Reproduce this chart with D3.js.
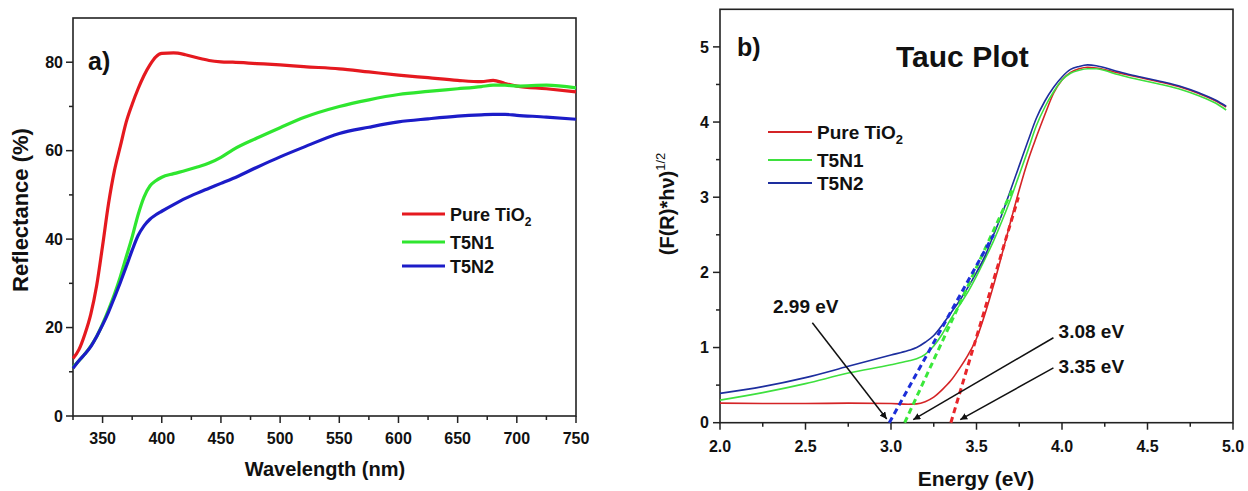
<!DOCTYPE html>
<html>
<head>
<meta charset="utf-8">
<script src="https://cdnjs.cloudflare.com/ajax/libs/d3/7.8.5/d3.min.js"></script>
<style>
body { margin: 0; background: #fff; }
text { font-family: "Liberation Sans", Arial, sans-serif; font-weight: bold; fill: #111; }
</style>
</head>
<body>
<script>
// ---- panel a) reflectance data
var wavelength = [325, 330, 335, 340, 345, 350, 355, 360, 365, 370, 375, 380, 385, 390, 395, 400,
    410, 420, 430, 440, 450, 460, 480, 500, 520, 550, 575, 600, 625, 650, 670, 680, 690, 700, 725, 750];
var reflPure = [13, 15, 18.5, 23, 29.5, 38.5, 48, 55.5, 61, 66.5, 70.5, 74, 77, 79.4, 81.2, 82.0,
    82.1, 81.7, 81.0, 80.4, 80.1, 80.0, 79.7, 79.4, 79.0, 78.5, 77.8, 77.1, 76.5, 75.9, 75.6, 75.9, 75.2, 74.6, 74.0, 73.3];
var reflT5N1 = [11, 12.5, 14, 15.8, 18, 20.8, 24, 27.5, 31.5, 36, 40.5, 45.5, 49.5, 52, 53.2, 54,
    54.8, 55.5, 56.3, 57.2, 58.5, 60.2, 62.8, 65.2, 67.5, 70, 71.5, 72.7, 73.4, 74, 74.5, 74.8, 74.8, 74.6, 74.8, 74.2];
var reflT5N2 = [10.8, 12.5, 14, 15.7, 18, 20.6, 23.5, 26.8, 30.2, 33.8, 37.5, 40.8, 43, 44.5, 45.5, 46.3,
    47.8, 49.2, 50.4, 51.5, 52.6, 53.7, 56.2, 58.6, 60.8, 63.9, 65.3, 66.5, 67.2, 67.8, 68.1, 68.2, 68.2, 68.0, 67.6, 67.1];
var wlTicks = [350, 400, 450, 500, 550, 600, 650, 700, 750];
var reflTicks = [0, 20, 40, 60, 80];

// ---- panel b) tauc data
var energy = [2.0, 2.25, 2.5, 2.75, 3.0, 3.1, 3.15, 3.2, 3.25, 3.3, 3.35, 3.4, 3.45, 3.5, 3.55, 3.6, 3.65, 3.7,
    3.75, 3.8, 3.85, 3.9, 3.95, 4.0, 4.05, 4.1, 4.15, 4.2, 4.3, 4.4, 4.5, 4.6, 4.7, 4.8, 4.9, 4.96];
var taucPure = [0.26, 0.255, 0.255, 0.26, 0.255, 0.245, 0.25, 0.28, 0.34, 0.44, 0.56, 0.72, 0.9, 1.12, 1.45, 1.83, 2.25, 2.68,
    3.1, 3.48, 3.8, 4.1, 4.38, 4.56, 4.66, 4.71, 4.73, 4.72, 4.67, 4.62, 4.57, 4.52, 4.46, 4.38, 4.28, 4.2];
var taucT5N1 = [0.3, 0.4, 0.52, 0.66, 0.77, 0.82, 0.85, 0.91, 1.02, 1.18, 1.38, 1.56, 1.74, 1.95, 2.18, 2.42, 2.69, 2.98,
    3.3, 3.62, 3.95, 4.2, 4.4, 4.56, 4.65, 4.69, 4.71, 4.71, 4.65, 4.59, 4.54, 4.49, 4.43, 4.35, 4.25, 4.16];
var taucT5N2 = [0.39, 0.48, 0.6, 0.75, 0.9, 0.96, 1.0, 1.07, 1.16, 1.3, 1.46, 1.62, 1.8, 2.0, 2.22, 2.5, 2.78, 3.1,
    3.42, 3.74, 4.05, 4.28, 4.46, 4.6, 4.7, 4.74, 4.76, 4.75, 4.69, 4.63, 4.58, 4.53, 4.47, 4.39, 4.29, 4.21];
var energyTicks = [2.0, 2.5, 3.0, 3.5, 4.0, 4.5, 5.0];
var taucTicks = [0, 1, 2, 3, 4, 5];

// band gap fits: x-intercept and top end of the dashed line
var gapNames = ["Pure TiO2", "T5N1", "T5N2"];
var gapValues = [3.35, 3.08, 2.99];
var gapEndX = [3.745, 3.71, 3.6];
var gapEndY = [3.0, 3.1, 2.5];
// arrow labels: text position and arrow from / to (data units)
var arrowText = ["2.99 eV", "3.08 eV", "3.35 eV"];
var arrowTextX = [2.31, 3.98, 3.98];
var arrowTextY = [1.46, 1.13, 0.66];
var arrowFrom = [[2.54, 1.33], [3.95, 1.13], [3.95, 0.73]];
var arrowTo = [[2.975, 0.05], [3.13, 0.04], [3.405, 0.04]];

var seriesNames = ["Pure TiO", "T5N1", "T5N2"];
var colorsA = ["#e5191f", "#2fe62f", "#1c1cc8"];
var colorsB = ["#d42426", "#3ee03e", "#1d2e9e"];

var svg = d3.select("body").append("svg")
    .attr("width", 1248)
    .attr("height", 491);

svg.append("defs").append("marker")
    .attr("id", "arrow")
    .attr("viewBox", "0 0 10 10")
    .attr("refX", 10).attr("refY", 5)
    .attr("markerWidth", 7).attr("markerHeight", 7)
    .attr("markerUnits", "userSpaceOnUse")
    .attr("orient", "auto")
    .append("path")
    .attr("d", "M0,0 L10,5 L0,10 Z")
    .attr("fill", "#111");

// generic frame + ticks
function drawFrame(g, x, y, xMajor, xMinor, yMajor, yMinor, xFmt, yFmt, tickPad) {
    var x0 = x.range()[0], x1 = x.range()[1], y0 = y.range()[0], y1 = y.range()[1];
    g.append("rect")
        .attr("x", x0).attr("y", y1)
        .attr("width", x1 - x0).attr("height", y0 - y1)
        .attr("fill", "none").attr("stroke", "#222").attr("stroke-width", 1.6);

    g.selectAll(".xmaj").data(xMajor).enter().append("line")
        .attr("x1", d => x(d)).attr("x2", d => x(d))
        .attr("y1", y0).attr("y2", y0 + 7)
        .attr("stroke", "#222").attr("stroke-width", 1.5);
    g.selectAll(".xmin").data(xMinor).enter().append("line")
        .attr("x1", d => x(d)).attr("x2", d => x(d))
        .attr("y1", y0).attr("y2", y0 + 4)
        .attr("stroke", "#222").attr("stroke-width", 1.5);
    g.selectAll(".ymaj").data(yMajor).enter().append("line")
        .attr("x1", x0 - 7).attr("x2", x0)
        .attr("y1", d => y(d)).attr("y2", d => y(d))
        .attr("stroke", "#222").attr("stroke-width", 1.5);
    g.selectAll(".ymin").data(yMinor).enter().append("line")
        .attr("x1", x0 - 4).attr("x2", x0)
        .attr("y1", d => y(d)).attr("y2", d => y(d))
        .attr("stroke", "#222").attr("stroke-width", 1.5);

    g.selectAll(".xlab").data(xMajor).enter().append("text")
        .attr("x", d => x(d)).attr("y", y0 + tickPad)
        .attr("text-anchor", "middle")
        .style("font-size", "16px")
        .text(xFmt);
    g.selectAll(".ylab").data(yMajor).enter().append("text")
        .attr("x", x0 - (tickPad - 18)).attr("y", d => y(d))
        .attr("dy", "0.36em")
        .attr("text-anchor", "end")
        .style("font-size", "16px")
        .text(yFmt);
}

// ================= panel a
var xa = d3.scaleLinear().domain([325, 750]).range([73, 576]);
var ya = d3.scaleLinear().domain([0, 90]).range([416, 18]);
var ga = svg.append("g");

drawFrame(ga, xa, ya, wlTicks, d3.range(325, 750, 50), reflTicks, [10, 30, 50, 70],
    d => d, d => d, 28);

var lineA = d3.line().curve(d3.curveMonotoneX);
[reflPure, reflT5N1, reflT5N2].forEach(function(vals, i) {
    ga.append("path")
        .attr("d", lineA(wavelength.map((w, j) => [xa(w), ya(vals[j])])))
        .attr("fill", "none")
        .attr("stroke", colorsA[i])
        .attr("stroke-width", 3.2);
});

ga.append("text").attr("x", 88).attr("y", 70).style("font-size", "25px").text("a)");

ga.append("text")
    .attr("transform", "translate(28,210) rotate(-90)")
    .attr("text-anchor", "middle")
    .style("font-size", "22px")
    .text("Reflectance (%)");
ga.append("text")
    .attr("x", 325).attr("y", 476)
    .attr("text-anchor", "middle")
    .style("font-size", "20px")
    .text("Wavelength (nm)");

// legend a
var legA = [214, 242, 266];
seriesNames.forEach(function(name, i) {
    ga.append("line")
        .attr("x1", 402).attr("x2", 445)
        .attr("y1", legA[i]).attr("y2", legA[i])
        .attr("stroke", colorsA[i]).attr("stroke-width", 3.2);
    var t = ga.append("text")
        .attr("x", 450).attr("y", legA[i] + 7)
        .style("font-size", "18px")
        .text(name);
    if (i == 0) t.append("tspan").attr("dy", 5).style("font-size", "12px").text("2");
});

// ================= panel b
var xb = d3.scaleLinear().domain([2, 5]).range([720, 1233]);
var yb = d3.scaleLinear().domain([0, 5.5]).range([422.7, 9.3]);
var gb = svg.append("g");

drawFrame(gb, xb, yb, energyTicks, d3.range(2.25, 5, 0.5), taucTicks, d3.range(0.5, 5, 1),
    d3.format(".1f"), d => d, 29);

var lineB = d3.line().curve(d3.curveMonotoneX);
[taucPure, taucT5N1, taucT5N2].forEach(function(vals, i) {
    gb.append("path")
        .attr("d", lineB(energy.map((e, j) => [xb(e), yb(vals[j])])))
        .attr("fill", "none")
        .attr("stroke", colorsB[i])
        .attr("stroke-width", 1.6);
});

// tangent (dashed) lines
var dashColors = ["#e8252a", "#3ae83a", "#1c2ed8"];
gapValues.forEach(function(g, i) {
    gb.append("line")
        .attr("x1", xb(g)).attr("y1", yb(0))
        .attr("x2", xb(gapEndX[i])).attr("y2", yb(gapEndY[i]))
        .attr("stroke", dashColors[i])
        .attr("stroke-width", 3)
        .attr("stroke-dasharray", "6,4");
});

// arrows + labels
arrowText.forEach(function(t, i) {
    gb.append("line")
        .attr("x1", xb(arrowFrom[i][0])).attr("y1", yb(arrowFrom[i][1]))
        .attr("x2", xb(arrowTo[i][0])).attr("y2", yb(arrowTo[i][1]))
        .attr("stroke", "#111").attr("stroke-width", 1.5)
        .attr("marker-end", "url(#arrow)");
    gb.append("text")
        .attr("x", xb(arrowTextX[i])).attr("y", yb(arrowTextY[i]))
        .style("font-size", "19px")
        .text(t);
});

gb.append("text").attr("x", 737).attr("y", 56).style("font-size", "25px").text("b)");
gb.append("text").attr("x", 896).attr("y", 67).style("font-size", "30px").text("Tauc Plot");

var yl = gb.append("text")
    .attr("transform", "translate(674,204) rotate(-90)")
    .attr("text-anchor", "middle")
    .style("font-size", "20px")
    .text("(F(R)*h\u03bd)");
yl.append("tspan").attr("dy", -9).style("font-size", "13px").style("font-weight", "normal").text("1/2");

gb.append("text")
    .attr("x", 976).attr("y", 486)
    .attr("text-anchor", "middle")
    .style("font-size", "21px")
    .text("Energy (eV)");

// legend b
var legB = [132, 160, 183];
seriesNames.forEach(function(name, i) {
    gb.append("line")
        .attr("x1", 768).attr("x2", 812)
        .attr("y1", legB[i]).attr("y2", legB[i])
        .attr("stroke", colorsB[i]).attr("stroke-width", 1.8);
    var t = gb.append("text")
        .attr("x", 817).attr("y", legB[i] + 7)
        .style("font-size", "19px")
        .text(name);
    if (i == 0) t.append("tspan").attr("dy", 5).style("font-size", "13px").text("2");
});
</script>
</body>
</html>
